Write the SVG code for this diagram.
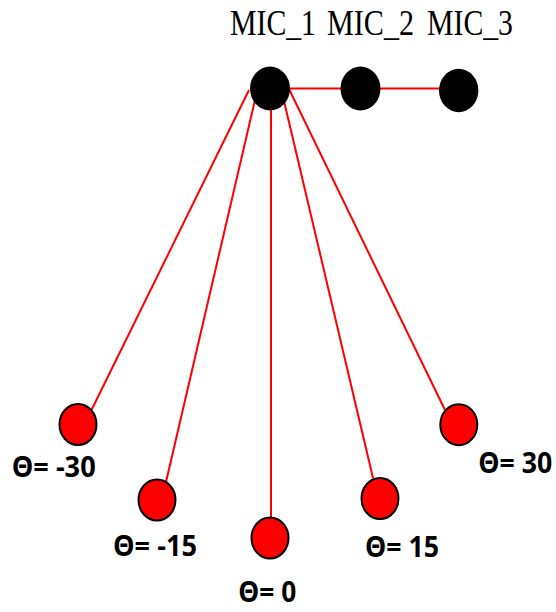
<svg xmlns="http://www.w3.org/2000/svg" width="556" height="612" viewBox="0 0 556 612">
  <style>
    .mic { fill: #000; }
    .src { fill: #ff0000; stroke: #000; stroke-width: 2; }
    .wire { stroke: #ff0000; stroke-width: 2; fill: none; }
    .mlabel { font-family: "Liberation Serif", "Times New Roman", serif; font-size: 36px; fill: #000; }
    .alabel { font-family: "Open Sans", "Noto Sans", sans-serif; font-weight: bold; font-size: 28px; fill: #000; }
  </style>
  <rect width="556" height="612" fill="#fff"/>

  <!-- connectors -->
  <g id="connectors">
    <line class="wire" x1="289" y1="88.5" x2="440" y2="88.5"/>
    <line class="wire" x1="249" y1="90" x2="91.5" y2="410"/>
    <line class="wire" x1="255" y1="100" x2="166" y2="482"/>
    <line class="wire" x1="271" y1="108" x2="271" y2="517"/>
    <line class="wire" x1="284" y1="101" x2="373" y2="478"/>
    <line class="wire" x1="289" y1="89" x2="445" y2="410"/>
  </g>

  <!-- microphone array -->
  <g id="mic1">
    <ellipse class="mic" cx="270" cy="88.5" rx="20" ry="22"/>
    <text class="mlabel" x="230" y="35" textLength="86" lengthAdjust="spacingAndGlyphs">MIC_1</text>
  </g>
  <g id="mic2">
    <ellipse class="mic" cx="360.5" cy="88.5" rx="20" ry="22"/>
    <text class="mlabel" x="327" y="35" textLength="87" lengthAdjust="spacingAndGlyphs">MIC_2</text>
  </g>
  <g id="mic3">
    <ellipse class="mic" cx="458.7" cy="90.5" rx="19.7" ry="21.7"/>
    <text class="mlabel" x="427" y="35" textLength="86" lengthAdjust="spacingAndGlyphs">MIC_3</text>
  </g>

  <!-- sources at different angles -->
  <g id="src-m30">
    <ellipse class="src" cx="78" cy="424.5" rx="18.5" ry="20.5"/>
    <text class="alabel" x="11.7" y="477" textLength="84" lengthAdjust="spacingAndGlyphs">Θ= -30</text>
  </g>
  <g id="src-m15">
    <ellipse class="src" cx="157" cy="500" rx="18.5" ry="20.5"/>
    <text class="alabel" x="113" y="555.7" textLength="84" lengthAdjust="spacingAndGlyphs">Θ= -15</text>
  </g>
  <g id="src-0">
    <ellipse class="src" cx="270" cy="538" rx="18.5" ry="20.5"/>
    <text class="alabel" x="238.3" y="601.7" textLength="58" lengthAdjust="spacingAndGlyphs">Θ= 0</text>
  </g>
  <g id="src-15">
    <ellipse class="src" cx="380" cy="498.5" rx="18.5" ry="20.5"/>
    <text class="alabel" x="365" y="556.7" textLength="74" lengthAdjust="spacingAndGlyphs">Θ= 15</text>
  </g>
  <g id="src-30">
    <ellipse class="src" cx="458.8" cy="424.7" rx="18.5" ry="20.5"/>
    <text class="alabel" x="478.3" y="472.7" textLength="74" lengthAdjust="spacingAndGlyphs">Θ= 30</text>
  </g>
</svg>
